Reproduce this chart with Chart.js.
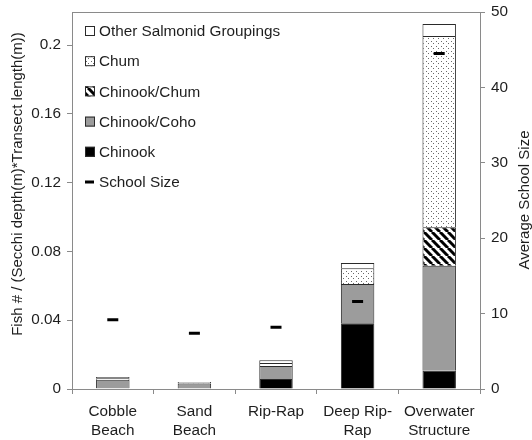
<!DOCTYPE html>
<html>
<head>
<meta charset="utf-8">
<script src="https://cdn.jsdelivr.net/npm/chart.js@4/dist/chart.umd.min.js"></script>
<style>
  html, body { margin: 0; padding: 0; background: #fff; }
  #wrap { width: 532px; height: 440px; }
</style>
</head>
<body>
<div id="wrap"><canvas id="c" width="532" height="440"></canvas></div>
<script>
// Habitat categories along the x axis
const categories = [['Cobble', 'Beach'], ['Sand', 'Beach'], 'Rip-Rap', ['Deep Rip-', 'Rap'], ['Overwater', 'Structure']];

// Fish density by grouping (fish per Secchi depth x transect length)
const chinook      = [0.0005, null,   0.0058, 0.0382, 0.0106];
const chinookCoho  = [0.0049, 0.0032, 0.0076, 0.0228, 0.0611];
const chinookChum  = [null,   null,   null,   null,   0.0223];
const chum         = [0.0008, 0.0003, 0.0017, 0.0092, 0.1112];
const otherGroups  = [0.0008, 0.0005, 0.0016, 0.0031, 0.0070];

// Average school size (right axis)
const schoolSize   = [9.2, 7.4, 8.2, 11.6, 44.5];

// Tick values
const densityTicks = [0, 0.04, 0.08, 0.12, 0.16, 0.2];
const densityTickLabels = ['0', '0.04', '0.08', '0.12', '0.16', '0.2'];
const schoolTicks = [0, 10, 20, 30, 40, 50];

const FONT = '"Liberation Sans", Arial, Helvetica, sans-serif';
const TEXT = '#1e1e1e';
const AXIS = '#8a8a8a';
const EDGE = '#2a2a2a';

function makePattern(size, draw) {
  const c = document.createElement('canvas');
  c.width = size; c.height = size;
  const g = c.getContext('2d');
  g.fillStyle = '#fff';
  g.fillRect(0, 0, size, size);
  draw(g, size);
  return document.getElementById('c').getContext('2d').createPattern(c, 'repeat');
}

// fine stipple for Chum
const dotFill = makePattern(5, (g) => {
  g.fillStyle = '#6a6a6a';
  g.fillRect(1, 1, 1, 1);
  g.fillRect(3, 3, 1, 1);
});

// diagonal hatching for Chinook/Chum
const stripeFill = makePattern(8, (g, s) => {
  g.strokeStyle = '#000';
  g.lineWidth = 3;
  for (const x0 of [-s, 0, s]) {
    g.beginPath();
    g.moveTo(x0, 0);
    g.lineTo(x0 + s, s);
    g.stroke();
  }
});

const GRAY = '#9c9c9c';

const barCommon = {
  type: 'bar',
  yAxisID: 'y',
  borderColor: EDGE,
  borderWidth: { top: 1, left: 1, right: 1, bottom: 0 },
  borderSkipped: false,
  barPercentage: 0.41,
  categoryPercentage: 1.0,
  order: 1
};

const datasets = [
  Object.assign({ label: 'Chinook', data: chinook, backgroundColor: '#000' }, barCommon),
  Object.assign({ label: 'Chinook/Coho', data: chinookCoho, backgroundColor: GRAY }, barCommon),
  Object.assign({ label: 'Chinook/Chum', data: chinookChum, backgroundColor: stripeFill }, barCommon),
  Object.assign({ label: 'Chum', data: chum, backgroundColor: dotFill }, barCommon),
  Object.assign({ label: 'Other Salmonid Groupings', data: otherGroups, backgroundColor: '#fff' }, barCommon),
  {
    type: 'line',
    label: 'School Size',
    data: schoolSize,
    yAxisID: 'y2',
    showLine: false,
    pointStyle: 'line',
    pointRadius: 5.5,
    pointHoverRadius: 5.5,
    pointBorderWidth: 3,
    borderColor: '#000',
    backgroundColor: '#000',
    order: 0
  }
];

// Legend entries in display order
const legendOrder = ['Other Salmonid Groupings', 'Chum', 'Chinook/Chum', 'Chinook/Coho', 'Chinook', 'School Size'];

const decorations = {
  id: 'decorations',
  afterDraw(chart) {
    const ctx = chart.ctx;
    const a = chart.chartArea;
    ctx.save();

    // top frame line
    ctx.strokeStyle = AXIS;
    ctx.lineWidth = 1;
    ctx.beginPath();
    ctx.moveTo(a.left, a.top + 0.5);
    ctx.lineTo(a.right, a.top + 0.5);
    ctx.stroke();

    // legend
    ctx.font = '15.3px ' + FONT;
    ctx.textBaseline = 'middle';
    ctx.textAlign = 'left';
    const bx = a.left + 13, tx = a.left + 27, y0 = 31, step = 30.2, box = 10;
    legendOrder.forEach((name, i) => {
      const ds = chart.data.datasets.find(d => d.label === name);
      const cy = y0 + i * step;
      if (ds.type === 'line') {
        ctx.fillStyle = '#000';
        ctx.fillRect(bx, cy - 1.5, 9, 3);
      } else {
        ctx.fillStyle = ds.backgroundColor;
        ctx.fillRect(bx, cy - box / 2, box, box);
        ctx.strokeStyle = EDGE;
        ctx.lineWidth = 1;
        ctx.strokeRect(bx + 0.5, cy - box / 2 + 0.5, box - 1, box - 1);
      }
      ctx.fillStyle = TEXT;
      ctx.fillText(name, tx, cy + 1);
    });

    // axis titles
    ctx.font = '15px ' + FONT;
    ctx.textAlign = 'center';
    ctx.textBaseline = 'middle';
    ctx.fillStyle = TEXT;
    ctx.save();
    ctx.translate(18, 184);
    ctx.rotate(-Math.PI / 2);
    ctx.fillText('Fish # / (Secchi depth(m)*Transect length(m))', 0, 0);
    ctx.restore();
    ctx.save();
    ctx.translate(525, 200);
    ctx.rotate(-Math.PI / 2);
    ctx.fillText('Average School Size', 0, 0);
    ctx.restore();

    ctx.restore();
  }
};

// fixed axis width, no extra label overflow padding
function fixVertical(width) {
  return (s) => { s.width = width; s.paddingTop = 0; s.paddingBottom = 0; };
}

new Chart(document.getElementById('c'), {
  data: { labels: categories, datasets },
  options: {
    responsive: false,
    animation: false,
    devicePixelRatio: 1,
    layout: { padding: { top: 12, left: 0, right: 0, bottom: 0 } },
    plugins: {
      legend: { display: false },
      tooltip: { enabled: false }
    },
    scales: {
      x: {
        stacked: true,
        offset: true,
        grid: { display: true, offset: true, drawOnChartArea: false, tickLength: 5, color: AXIS },
        border: { display: true, color: AXIS },
        ticks: { color: TEXT, font: { family: FONT, size: 15.3 }, padding: 9, maxRotation: 0, autoSkip: false },
        afterFit(s) { s.height = 51; s.paddingLeft = 0; s.paddingRight = 0; }
      },
      y: {
        position: 'left',
        stacked: true,
        min: 0,
        max: 0.2192,
        afterBuildTicks(s) { s.ticks = densityTicks.map(v => ({ value: v })); },
        grid: { drawOnChartArea: false, tickLength: 5, color: AXIS },
        border: { display: true, color: AXIS },
        ticks: {
          color: TEXT, font: { family: FONT, size: 15.3 }, padding: 6,
          callback: (v) => densityTickLabels[densityTicks.indexOf(v)] ?? ''
        },
        afterFit: fixVertical(72)
      },
      y2: {
        position: 'right',
        stacked: false,
        min: 0,
        max: 50,
        afterBuildTicks(s) { s.ticks = schoolTicks.map(v => ({ value: v })); },
        grid: { drawOnChartArea: false, tickLength: 5, color: AXIS },
        border: { display: true, color: AXIS },
        ticks: { color: TEXT, font: { family: FONT, size: 15.3 }, padding: 6 },
        afterFit: fixVertical(52)
      }
    }
  },
  plugins: [decorations]
});
</script>
</body>
</html>
